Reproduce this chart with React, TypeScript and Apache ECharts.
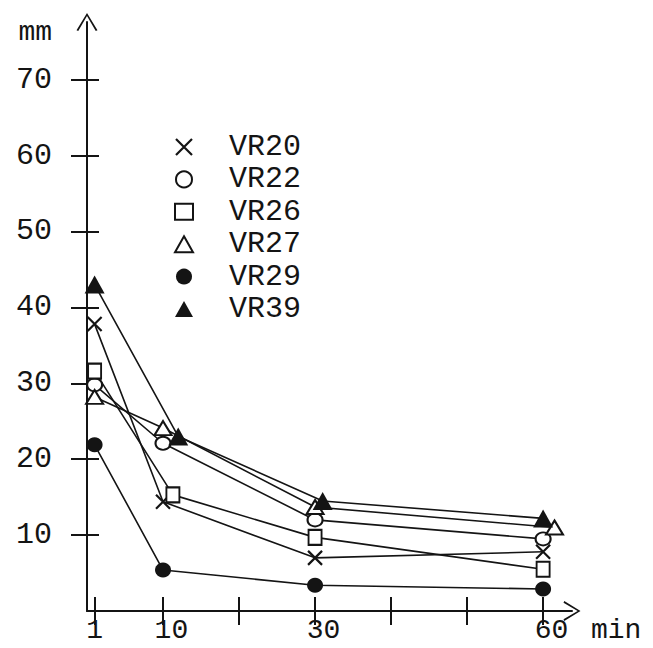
import React, { useEffect, useRef } from 'react';
import * as echarts from 'echarts';

const seriesNames = ['VR20', 'VR22', 'VR26', 'VR27', 'VR29', 'VR39'];
const vr20 = [[1, 37.8], [10, 14.4], [30, 7.0], [60, 7.8]];
const vr22 = [[1, 29.8], [10, 22.1], [30, 12.0], [60, 9.5]];
const vr26 = [[1, 31.6], [11.3, 15.3], [30, 9.7], [60, 5.5]];
const vr27 = [[1, 28.2], [10, 24.1], [30, 13.7], [61.5, 11.0]];
const vr29 = [[1, 21.9], [10, 5.4], [30, 3.4], [60, 2.9]];
const vr39 = [[1, 43.0], [12, 23.0], [31, 14.5], [60, 12.2]];
const xTickValues = [1, 10, 20, 30, 40, 50, 60];
const xLabelValues = [1, 10, 30, 60];
const yTickValues = [10, 20, 30, 40, 50, 60, 70];

const INK = '#141414';
const FONT = "'Liberation Mono', 'DejaVu Sans Mono', monospace";
const CROSS = 'path://M0,0L10,10M10,0L0,10';
const CHEVRON = 'path://M0,18L11,0L22,18L20.2,18.9L11,3.2L1.8,18.9Z';

const seriesData = [vr20, vr22, vr26, vr27, vr29, vr39];
const symbols = [CROSS, 'circle', 'rect', 'triangle', 'circle', 'triangle'];
const symbolSizes: any[] = [[14, 14], [15, 13], [13, 15], [17, 14], [16, 15], [20, 18]];
const filled = [false, false, false, false, true, true];

export default function App() {
  const ref = useRef<HTMLDivElement>(null);
  useEffect(() => {
    if (!ref.current) return;
    const chart = echarts.init(ref.current, null, { renderer: 'svg' });
    const itemStyleFor = (i: number) =>
      symbols[i] === CROSS
        ? { color: 'transparent', borderColor: INK, borderWidth: 2.2 }
        : filled[i]
        ? { color: INK, borderColor: INK, borderWidth: 0 }
        : { color: '#fff', borderColor: INK, borderWidth: 2 };

    const option: any = {
      animation: false,
      backgroundColor: '#fff',
      grid: { left: 87, right: 81, top: 22, bottom: 37, containLabel: false },
      legend: {
        orient: 'vertical',
        left: 169,
        top: 127,
        itemWidth: 18,
        itemHeight: 16,
        itemGap: 2.4,
        symbolKeepAspect: true,
        selectedMode: false,
        textStyle: {
          fontFamily: FONT,
          fontSize: 30,
          color: INK,
          lineHeight: 30,
          padding: [0, 0, 0, 31],
        },
        data: seriesNames.map((name, i) => ({
          name,
          icon: symbols[i],
          itemStyle: itemStyleFor(i),
        })),
      },
      xAxis: [
        {
          type: 'value',
          min: 0,
          max: 63.8,
          position: 'bottom',
          splitLine: { show: false },
          axisLine: {
            show: true,
            onZero: false,
            lineStyle: { color: INK, width: 2 },
            symbol: ['none', CHEVRON],
            symbolSize: [22, 17],
          },
          axisTick: {
            show: true,
            inside: false,
            length: 14,
            customValues: xTickValues,
            lineStyle: { color: INK, width: 2 },
          },
          axisLabel: {
            show: true,
            customValues: xLabelValues,
            margin: 7,
            fontFamily: FONT,
            fontSize: 28,
            lineHeight: 24,
            color: INK,
            formatter: (v: number) => (v === 1 ? '1' : '\u00a0' + v),
          },
          name: 'min',
          nameLocation: 'end',
          nameGap: 19,
          nameTextStyle: {
            fontFamily: FONT,
            fontSize: 28,
            lineHeight: 24,
            color: INK,
            align: 'left',
            verticalAlign: 'top',
            padding: [7, 0, 0, 0],
          },
        },
        {
          type: 'value',
          min: 0,
          max: 63.8,
          position: 'bottom',
          splitLine: { show: false },
          axisLine: { show: false },
          axisTick: {
            show: true,
            inside: true,
            length: 14,
            customValues: xTickValues,
            lineStyle: { color: INK, width: 2 },
          },
          axisLabel: { show: false },
        },
      ],
      yAxis: [
        {
          type: 'value',
          min: 0,
          max: 77.6,
          position: 'left',
          splitLine: { show: false },
          axisLine: {
            show: true,
            onZero: false,
            lineStyle: { color: INK, width: 2 },
            symbol: ['none', CHEVRON],
            symbolSize: [24, 18],
          },
          axisTick: {
            show: true,
            inside: false,
            length: 16,
            customValues: yTickValues,
            lineStyle: { color: INK, width: 2 },
          },
          axisLabel: {
            show: true,
            customValues: yTickValues,
            margin: 35,
            fontFamily: FONT,
            fontSize: 30,
            color: INK,
          },
          name: 'mm',
          nameLocation: 'end',
          nameGap: -10,
          nameTextStyle: {
            fontFamily: FONT,
            fontSize: 28,
            color: INK,
            align: 'right',
            verticalAlign: 'middle',
            padding: [0, 35, 0, 0],
          },
        },
        {
          type: 'value',
          min: 0,
          max: 77.6,
          position: 'left',
          splitLine: { show: false },
          axisLine: { show: false },
          axisTick: {
            show: true,
            inside: true,
            length: 12,
            customValues: yTickValues,
            lineStyle: { color: INK, width: 2 },
          },
          axisLabel: { show: false },
        },
      ],
      series: seriesNames.map((name, i) => ({
        name,
        type: 'line',
        xAxisIndex: 0,
        yAxisIndex: 0,
        data: seriesData[i],
        symbol: symbols[i],
        symbolSize: symbolSizes[i],
        showAllSymbol: true,
        lineStyle: { color: INK, width: 1.6 },
        itemStyle: itemStyleFor(i),
        emphasis: { disabled: true },
        z: 3,
      })),
    };
    chart.setOption(option);
    return () => chart.dispose();
  }, []);
  return (
    <div
      ref={ref}
      style={{ position: 'absolute', left: 0, top: 0, width: 653, height: 648, background: '#fff' }}
    />
  );
}
